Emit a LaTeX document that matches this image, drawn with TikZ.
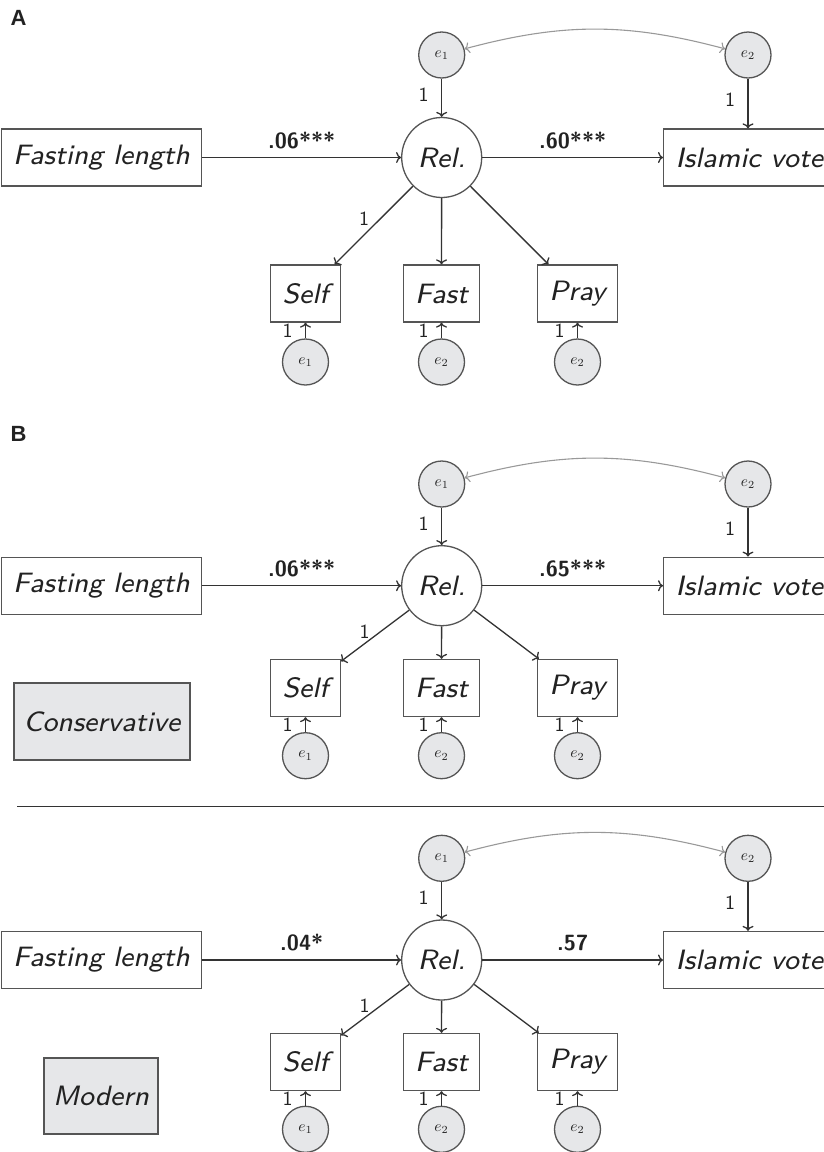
\documentclass[tikz,border=0pt]{standalone}
\usepackage{fontspec}
\newfontfamily\helv{Liberation Sans}
\usetikzlibrary{arrows.meta}
\definecolor{ln}{HTML}{333333}
\definecolor{bd}{HTML}{555555}
\definecolor{cv}{HTML}{999999}
\definecolor{fl}{HTML}{E6E7E9}
\definecolor{tx}{HTML}{222222}
\newcommand\semtxt[1]{\scalebox{3.5}{\fontsize{8}{9}\selectfont\sffamily\itshape #1}}
\newcommand\errlab[1]{\scalebox{1.55}{$e_{#1}$}}
\newcommand\onelab{\scalebox{2}{\sffamily 1}}
\tikzset{
  obs/.style={draw=bd, line width=1.3pt, fill=white, minimum height=57, inner xsep=12, inner ysep=0, text=tx},
  lat/.style={circle, draw=bd, line width=1.3pt, fill=white, minimum size=80, inner sep=0, text=tx},
  err/.style={circle, draw=bd, fill=fl, line width=1.3pt, minimum size=46, inner sep=0, text=tx},
  grp/.style={draw=bd, fill=fl, line width=1.3pt, text=tx, inner sep=0},
  arr/.style={draw=ln, line width=1.3pt, -{To[length=5,width=11]}},
  cov/.style={draw=cv, line width=1.1pt, {To[length=5,width=11]}-{To[length=5,width=11]}, bend left=15},
  one/.style={text=tx, inner sep=0},
  coef/.style={text=tx, font=\sffamily\bfseries\fontsize{22}{24}\selectfont, inner sep=0},
  panel/.style={text=tx, font=\helv\bfseries\fontsize{22}{24}\selectfont, inner sep=0},
}
\newcommand\semmodel[7]{%
  \node[err] (#1e1) at (441.7,#2) {\errlab{1}};
  \node[err] (#1e2) at (748,#2) {\errlab{2}};
  \node[obs] (#1fl) at (101.5,#3) {\semtxt{Fasting length}};
  \node[lat] (#1rel) at (441.7,#3) {\semtxt{Rel.}};
  \node[obs, anchor=west] (#1iv) at (663,#3) {\semtxt{Islamic vote}};
  \node[obs] (#1self) at (305.5,#4) {\semtxt{Self}};
  \node[obs] (#1fast) at (441.5,#4) {\semtxt{Fast}};
  \node[obs] (#1pray) at (577.5,#4) {\semtxt{Pray}};
  \node[err] (#1sa) at (305.5,#5) {\errlab{1}};
  \node[err] (#1sb) at (441.5,#5) {\errlab{2}};
  \node[err] (#1sc) at (577.5,#5) {\errlab{2}};
  \draw[cov] (#1e1) to (#1e2);
  \draw[arr] (#1e1) -- node[one, pos=0.43, xshift=-18]{\onelab} (#1rel);
  \draw[arr] (#1e2) -- node[one, pos=0.43, xshift=-18]{\onelab} (#1e2 |- #1iv.north);
  \draw[arr] (#1fl) -- node[coef, above=8]{#6} (#1rel);
  \draw[arr] (#1rel) -- node[coef, above=8]{#7} (#1iv);
  \draw[arr] (#1rel) -- node[one, pos=0.42, xshift=-16]{\onelab} (#1self);
  \draw[arr] (#1rel) -- (#1fast);
  \draw[arr] (#1rel) -- (#1pray);
  \draw[arr] (#1sa) -- node[one, xshift=-18]{\onelab} (#1sa |- #1self.south);
  \draw[arr] (#1sb) -- node[one, xshift=-18]{\onelab} (#1sb |- #1fast.south);
  \draw[arr] (#1sc) -- node[one, xshift=-18]{\onelab} (#1sc |- #1pray.south);
}
\begin{document}
\begin{tikzpicture}[x=1pt, y=-1pt]
  \useasboundingbox (0,0) rectangle (824,1152);
  \node[panel] (la) at (18.5,18) {A};
  \node[panel] (lb) at (18.5,434) {B};
  \semmodel{a}{55}{157.5}{293.5}{362}{.06***}{.60***}
  \semmodel{b}{484}{585.7}{688}{755.7}{.06***}{.65***}
  \semmodel{c}{858.3}{960}{1062}{1129.3}{.04*}{.57}
  \node[grp, minimum width=176, minimum height=77] (cons) at (102,721.5) {\semtxt{Conservative}};
  \node[grp, minimum width=114, minimum height=76] (mod) at (101,1096) {\semtxt{Modern}};
  \coordinate (sepl) at (17,806.7);
  \coordinate (sepr) at (824,806.7);
  \draw[draw=ln, line width=1.3pt] (sepl) -- (sepr);
\end{tikzpicture}
\end{document}
